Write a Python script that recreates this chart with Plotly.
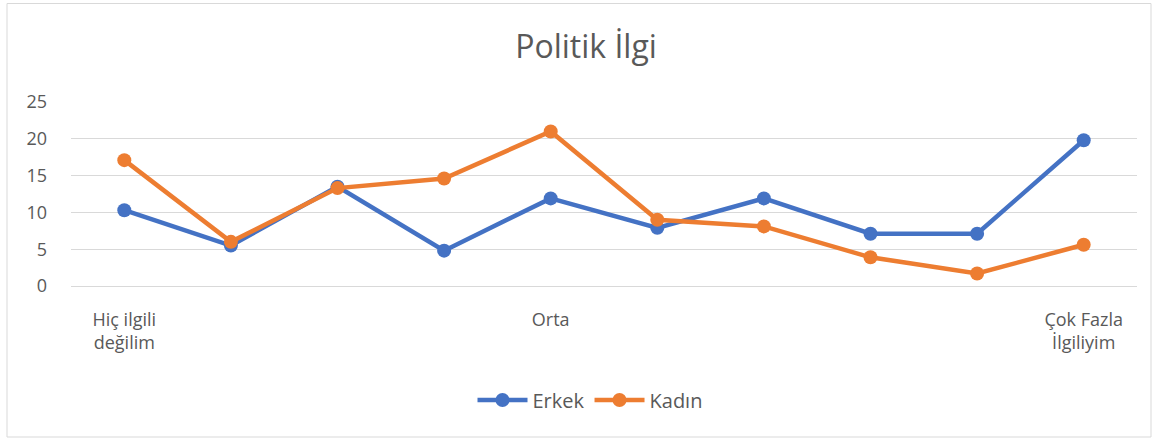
import plotly.graph_objects as go

# Data
levels = [1, 2, 3, 4, 5, 6, 7, 8, 9, 10]
category_labels = ["Hiç ilgili<br>değilim", "", "", "", "Orta", "", "", "", "", "Çok Fazla<br>İlgiliyim"]
erkek = [10.3, 5.5, 13.5, 4.8, 11.9, 7.9, 11.9, 7.1, 7.1, 19.8]
kadin = [17.1, 6.0, 13.3, 14.6, 21.0, 9.0, 8.1, 3.9, 1.7, 5.6]
series_names = ["Erkek", "Kadın"]
y_ticks = [0, 5, 10, 15, 20, 25]
title_text = "Politik İlgi"

BLUE = "#4472C4"
ORANGE = "#ED7D31"
TEXT = "#595959"
GRID = "#D9D9D9"
FONT = "Open Sans"

W, H = 1159, 441
L, R, T, B = 71, 22, 102, 155

fig = go.Figure()
for name, vals, col in [(series_names[0], erkek, BLUE), (series_names[1], kadin, ORANGE)]:
    fig.add_trace(go.Scatter(
        x=levels, y=vals, name=name, mode="lines+markers",
        line=dict(color=col, width=4.5),
        marker=dict(color=col, size=14),
    ))

tick_idx = [i for i, t in enumerate(category_labels) if t]
fig.update_xaxes(
    range=[0.5, 10.5],
    tickmode="array",
    tickvals=[levels[i] for i in tick_idx],
    ticktext=[category_labels[i] for i in tick_idx],
    showgrid=False, zeroline=False,
    showline=True, linecolor=GRID, linewidth=1,
    ticks="", ticklabelstandoff=17,
    tickfont=dict(family=FONT, size=18, color=TEXT),
)
fig.update_yaxes(
    range=[0, 25],
    tickmode="array", tickvals=y_ticks,
    showgrid=True, gridcolor=GRID, gridwidth=1,
    zeroline=False, showline=False,
    ticks="", ticklabelstandoff=23,
    tickfont=dict(family=FONT, size=18, color=TEXT),
)

pw = W - L - R
ph = H - T - B
fig.add_shape(type="rect", xref="paper", yref="paper",
              x0=(7 - L) / pw, x1=(1151 - L) / pw,
              y0=(H - B - 437) / ph, y1=(H - B - 3.5) / ph,
              line=dict(color=GRID, width=1), layer="below")

fig.update_layout(
    width=W, height=H,
    margin=dict(l=L, r=R, t=T, b=B),
    paper_bgcolor="white", plot_bgcolor="white",
    title=dict(text=title_text, x=586 / W, xanchor="center",
               y=1 - 47 / H, yanchor="middle", yref="container",
               font=dict(family=FONT, size=32, color=TEXT)),
    legend=dict(orientation="h", x=(590 - L) / pw, xanchor="center",
                y=(H - B - 400) / ph, yanchor="middle",
                font=dict(family=FONT, size=20, color=TEXT),
                itemwidth=50, bgcolor="rgba(0,0,0,0)"),
    font=dict(family=FONT, color=TEXT),
)

fig.write_html("out.html", config={"displayModeBar": False},
               post_script="document.body.style.margin='0';")
